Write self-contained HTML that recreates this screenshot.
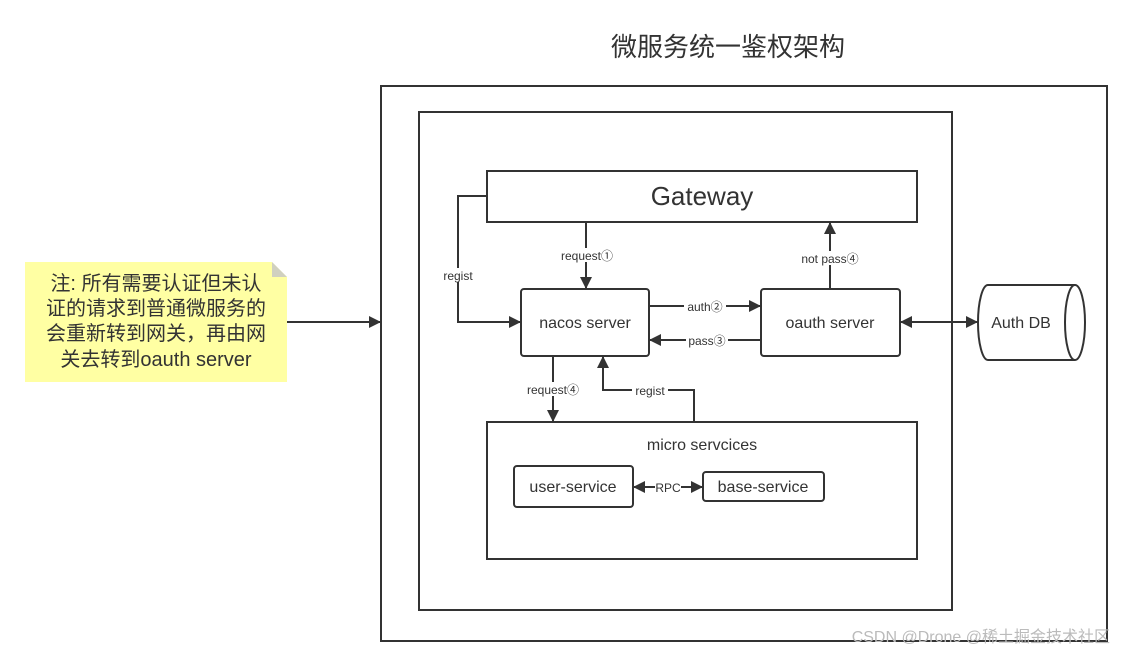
<!DOCTYPE html>
<html><head><meta charset="utf-8"><style>
html,body{margin:0;padding:0;background:#fff;}
svg{display:block;}
text{font-family:"Liberation Sans","Noto Sans CJK SC",sans-serif;fill:#333;}
</style></head><body>
<svg width="1132" height="666" viewBox="0 0 1132 666" xmlns="http://www.w3.org/2000/svg">
<defs>
<marker id="a" viewBox="0 0 12 12" refX="12" refY="6" markerWidth="12" markerHeight="12" markerUnits="userSpaceOnUse" orient="auto-start-reverse"><path d="M0,0 L12,6 L0,12 z" fill="#333"/></marker>
</defs>
<text x="728" y="56" font-size="26" text-anchor="middle">微服务统一鉴权架构</text>
<g fill="none" stroke="#333" stroke-width="2">
<rect x="381" y="86" width="726" height="555"/>
<rect x="419" y="112" width="533" height="498"/>
<rect x="487" y="171" width="430" height="51"/>
<rect x="521" y="289" width="128" height="67" rx="3"/>
<rect x="761" y="289" width="139" height="67" rx="3"/>
<rect x="487" y="422" width="430" height="137"/>
<rect x="514" y="466" width="119" height="41" rx="3"/>
<rect x="703" y="472" width="121" height="29" rx="3"/>
<path d="M988,285 L1075,285 A10,37.5 0 0 1 1075,360 L988,360 A10,37.5 0 0 1 988,285 Z"/>
<path d="M1075,285 A10,37.5 0 0 0 1075,360"/>
</g>
<path d="M25,262 L272,262 L287,277 L287,382 L25,382 Z" fill="#ffffa3"/>
<path d="M272,262 L287,277 L272,277 Z" fill="#d0d0c0"/>
<g font-size="20" text-anchor="middle">
<text x="156" y="290">注: 所有需要认证但未认</text>
<text x="156" y="315">证的请求到普通微服务的</text>
<text x="156" y="340">会重新转到网关，再由网</text>
<text x="156" y="366">关去转到oauth server</text>
</g>
<g stroke="#333" stroke-width="2" fill="none" marker-end="url(#a)">
<path d="M287,322 L381,322"/>
<path d="M487,196 L458,196 L458,322 L521,322"/>
<path d="M586,222 L586,289"/>
<path d="M830,289 L830,222"/>
<path d="M649,306 L761,306"/>
<path d="M761,340 L649,340"/>
<path d="M900,322 L978,322" marker-start="url(#a)"/>
<path d="M553,356 L553,422"/>
<path d="M694,422 L694,390 L603,390 L603,356"/>
<path d="M633,487 L703,487" marker-start="url(#a)"/>
</g>
<g font-size="12" text-anchor="middle" style="fill:#444">
<rect x="438" y="268" width="40" height="14" fill="#fff"/><text x="458" y="280">regist</text>
<rect x="556" y="248" width="62" height="14" fill="#fff"/><text x="587" y="260">request①</text>
<rect x="796" y="251" width="68" height="14" fill="#fff"/><text x="830" y="263">not pass④</text>
<rect x="684" y="299" width="42" height="14" fill="#fff"/><text x="705" y="311">auth②</text>
<rect x="686" y="333" width="42" height="14" fill="#fff"/><text x="707" y="345">pass③</text>
<rect x="522" y="382" width="62" height="14" fill="#fff"/><text x="553" y="394">request④</text>
<rect x="632" y="383" width="36" height="14" fill="#fff"/><text x="650" y="395">regist</text>
<rect x="655" y="480" width="26" height="14" fill="#fff"/><text x="668" y="492">RPC</text>
</g>
<text x="702" y="205" font-size="26" text-anchor="middle">Gateway</text>
<g font-size="16" text-anchor="middle">
<text x="585" y="328">nacos server</text>
<text x="830" y="328">oauth server</text>
<text x="1021" y="328">Auth DB</text>
<text x="702" y="450">micro servcices</text>
<text x="573" y="492">user-service</text>
<text x="763" y="492">base-service</text>
</g>
<text x="1110" y="642" font-size="16" text-anchor="end" style="fill:#bbb">CSDN @Drone @稀土掘金技术社区</text>
</svg>
</body></html>
